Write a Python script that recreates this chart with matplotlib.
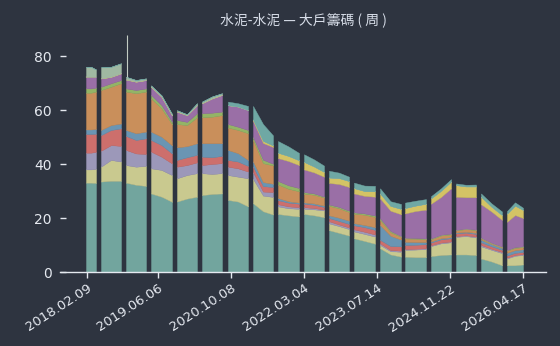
import numpy as np
import matplotlib.pyplot as plt

plt.rcParams['font.family'] = ['DejaVu Sans']

BG = '#2e3440'
FG = '#e5e9f0'

# weekly reporting windows (week offset from the first record)
seg_first_week = [0, 15, 40, 65, 91, 116, 142, 167, 192, 218, 243, 268, 294, 319, 345, 370, 395, 421]
seg_last_week = [10, 35, 60, 86, 111, 136, 162, 187, 213, 238, 263, 289, 315, 340, 365, 390, 416, 437]

tick_weeks = [1, 72, 145, 218, 291, 364, 437]
tick_labels = ['2018.02.09', '2019.06.06', '2020.10.08', '2022.03.04',
               '2023.07.14', '2024.11.22', '2026.04.17']

# holding share (%) per tier, three readings per window: first / middle / last week
tier_1 = [33.1, 33.1, 33.0, 33.5, 33.8, 33.8, 33.1, 32.3, 31.9, 29.1, 27.9, 26.0,
          26.1, 27.2, 27.9, 28.5, 28.9, 29.1, 26.7, 26.1, 24.3, 25.5, 22.5, 21.3,
          21.5, 21.0, 20.6, 21.5, 21.0, 20.3, 15.5, 14.5, 13.5, 12.5, 11.5, 10.5,
          8.8, 6.5, 5.7, 5.7, 5.5, 5.5, 5.9, 6.3, 6.5, 6.5, 6.5, 6.3,
          5.0, 3.9, 2.5, 2.5, 2.5, 2.8]
tier_2 = [4.9, 4.9, 5.2, 5.5, 7.7, 7.1, 6.5, 6.7, 7.4, 9.3, 9.9, 9.9,
          8.6, 8.7, 8.7, 8.1, 7.4, 7.5, 9.2, 9.2, 10.4, 9.0, 5.8, 6.5,
          2.8, 2.6, 2.8, 1.9, 2.2, 2.5, 2.5, 2.5, 2.4, 2.5, 2.6, 2.6,
          1.2, 1.2, 1.8, 2.5, 2.8, 3.0, 3.7, 4.3, 4.5, 6.5, 6.8, 6.5,
          4.5, 4.3, 4.5, 2.5, 3.5, 3.5]
tier_3 = [6.2, 6.2, 6.3, 5.9, 5.5, 5.8, 5.6, 4.9, 4.4, 6.2, 4.9, 4.3,
          4.3, 3.7, 4.0, 3.0, 3.7, 3.7, 3.1, 3.1, 2.5, 2.5, 1.5, 1.8,
          0.8, 0.7, 0.6, 0.6, 0.5, 0.3, 0.8, 0.6, 0.6, 0.8, 0.8, 0.8,
          0.6, 0.4, 0.4, 0.3, 0.3, 0.3, 0.3, 0.3, 0.3, 0.3, 0.3, 0.3,
          0.5, 0.4, 0.4, 0.3, 0.3, 0.3]
tier_4 = [6.9, 6.9, 6.7, 5.8, 5.6, 6.5, 5.2, 5.0, 5.8, 4.3, 4.3, 3.7,
          2.5, 2.9, 2.8, 3.1, 2.5, 2.7, 2.5, 2.5, 2.1, 2.0, 2.0, 1.9,
          1.5, 1.4, 1.3, 1.3, 1.2, 1.0, 1.2, 1.3, 1.3, 1.5, 1.7, 1.7,
          1.3, 1.5, 1.6, 1.5, 1.5, 1.5, 1.0, 1.2, 1.2, 1.0, 1.0, 1.0,
          1.0, 0.9, 0.8, 0.8, 0.8, 0.8]
tier_5 = [1.7, 1.7, 1.8, 1.9, 1.8, 1.8, 2.2, 2.5, 2.5, 3.1, 3.1, 3.0,
          4.7, 4.1, 4.3, 5.0, 5.2, 4.7, 3.7, 3.1, 2.2, 2.0, 1.5, 1.2,
          0.8, 0.5, 0.4, 0.5, 0.5, 0.5, 1.0, 1.2, 1.2, 0.8, 0.8, 1.0,
          5.5, 3.8, 2.5, 1.2, 1.0, 0.8, 0.4, 0.4, 0.4, 0.3, 0.3, 0.4,
          1.0, 0.8, 0.7, 1.0, 1.0, 1.0]
tier_6 = [13.6, 13.6, 13.8, 14.8, 14.2, 14.9, 14.2, 14.8, 14.8, 12.3, 10.5, 7.8,
          8.6, 7.8, 9.6, 9.6, 9.8, 10.4, 8.3, 8.6, 9.9, 8.0, 7.0, 6.8,
          5.0, 4.6, 4.2, 3.2, 3.2, 3.0, 3.5, 3.5, 3.2, 3.5, 3.8, 3.8,
          1.9, 1.3, 1.0, 1.2, 1.2, 1.0, 0.8, 1.0, 1.0, 0.8, 1.0, 1.0,
          0.5, 0.3, 0.3, 0.8, 0.8, 0.8]
tier_7 = [1.6, 1.6, 1.5, 1.2, 1.3, 1.2, 1.2, 1.2, 1.2, 1.3, 1.2, 0.9,
          1.5, 1.2, 1.5, 1.5, 1.5, 1.3, 1.3, 1.2, 1.2, 1.0, 1.3, 0.6,
          1.3, 1.3, 1.2, 0.6, 0.5, 0.3, 0.5, 0.5, 0.5, 0.5, 0.5, 0.5,
          0.6, 0.5, 0.3, 0.3, 0.3, 0.3, 0.3, 0.3, 0.3, 0.2, 0.2, 0.2,
          0.2, 0.2, 0.2, 0.2, 0.3, 0.3]
tier_8 = [4.3, 4.3, 4.0, 3.1, 2.4, 2.5, 3.3, 3.1, 3.1, 3.0, 3.1, 2.4,
          3.1, 2.5, 3.0, 3.7, 5.3, 6.2, 7.0, 7.5, 7.4, 6.0, 6.2, 6.2,
          8.5, 9.0, 8.5, 8.4, 7.8, 7.4, 8.0, 8.5, 8.8, 7.0, 6.5, 7.0,
          7.4, 7.5, 8.1, 9.0, 10.0, 10.7, 12.9, 14.0, 16.8, 12.3, 11.6, 12.0,
          12.4, 11.6, 9.9, 10.5, 11.9, 10.5]
tier_9 = [0, 0, 0, 0, 0, 0, 0, 0, 0, 0, 0, 0,
          0, 0, 0, 0, 0, 0, 0, 0, 0, 0.5, 0.8, 0.6,
          2.0, 1.9, 1.8, 2.8, 2.2, 1.8, 2.0, 2.2, 2.2, 2.0, 1.8, 2.0,
          1.8, 1.8, 2.0, 2.0, 2.0, 2.2, 2.0, 2.3, 2.5, 4.3, 4.0, 4.0,
          2.8, 1.8, 1.8, 3.0, 3.5, 3.0]
tier_10 = [3.7, 3.7, 2.7, 4.1, 3.7, 3.7, 1.0, 0.6, 0.6, 0.5, 0.5, 0.5,
           0.5, 0.3, 0.7, 0.6, 0.7, 0.6, 0, 0, 0, 0, 0, 0,
           0, 0, 0, 0, 0, 0, 0, 0, 0, 0, 0, 0,
           0, 0, 0, 0, 0, 0, 0, 0, 0, 0, 0, 0,
           0, 0, 0, 0, 0, 0]
tier_11 = [0, 0, 0, 0, 0, 0, 0, 0, 0, 0, 0, 0,
           0, 0, 0, 0, 0, 0, 1.3, 1.2, 1.5, 5.0, 6.2, 3.7,
           4.3, 3.5, 2.7, 2.8, 2.6, 2.3, 2.5, 2.0, 1.6, 2.0, 2.0, 2.0,
           1.9, 1.7, 1.8, 2.0, 1.8, 1.7, 0.8, 0.9, 0.9, 0.6, 0.6, 0.7,
           1.2, 1.2, 1.3, 1.0, 1.2, 0.8]

# one-week spike in the 2019 window
spike_week = 41
spike_top = 87.8

tiers = [tier_1, tier_2, tier_3, tier_4, tier_5, tier_6, tier_7, tier_8,
         tier_9, tier_10, tier_11]
colors = ['#72a59e', '#c9c98f', '#9c98b9', '#cd6f6c', '#6a95b3', '#c98f5b',
          '#93b466', '#9a6fa6', '#d4c365', '#a0b8a2', '#6fa8a4']

fig = plt.figure(figsize=(5.6, 3.46), dpi=100, facecolor=BG)
ax = fig.add_axes([60 / 560, 74 / 346, 486 / 560, 243 / 346])
ax.set_facecolor(BG)

data = np.array(tiers, dtype=float)
for k, (w0, w1) in enumerate(zip(seg_first_week, seg_last_week)):
    x = [w0, (w0 + w1) / 2, w1]
    ys = data[:, 3 * k:3 * k + 3]
    ax.stackplot(x, ys, colors=colors, edgecolor='face', linewidth=0.3)

# spike drawn on top of the stack total for that week
k = next(i for i, (a, b) in enumerate(zip(seg_first_week, seg_last_week)) if a <= spike_week <= b)
xs = [seg_first_week[k], (seg_first_week[k] + seg_last_week[k]) / 2, seg_last_week[k]]
base = np.interp(spike_week, xs, data[:, 3 * k:3 * k + 3].sum(axis=0))
ax.vlines(spike_week, base, spike_top, color='#c3ccc3', linewidth=0.8)

ax.set_xlim(-26, 460)
ax.set_ylim(0, 90)

for side in ['top', 'right', 'left']:
    ax.spines[side].set_visible(False)
ax.spines['bottom'].set_color(FG)
ax.spines['bottom'].set_linewidth(1.0)

ax.set_yticks([0, 20, 40, 60, 80])
ax.tick_params(axis='y', direction='in', length=4, width=1, color=FG,
               labelcolor=FG, labelsize=10, pad=6)
ax.set_xticks(tick_weeks)
ax.set_xticklabels(tick_labels, rotation=33, ha='right', rotation_mode='anchor')
ax.tick_params(axis='x', direction='out', length=4, width=1, color=FG,
               labelcolor=FG, labelsize=9.5, pad=3)

fig.text(303 / 560, 1 - 20 / 346, '水泥-水泥 — 大戶籌碼 ( 周 )', ha='center', va='center',
         fontsize=10, color='#d8dee9', family=['Noto Sans CJK TC', 'DejaVu Sans'])

fig.savefig('out.png', dpi=100, facecolor=BG)
